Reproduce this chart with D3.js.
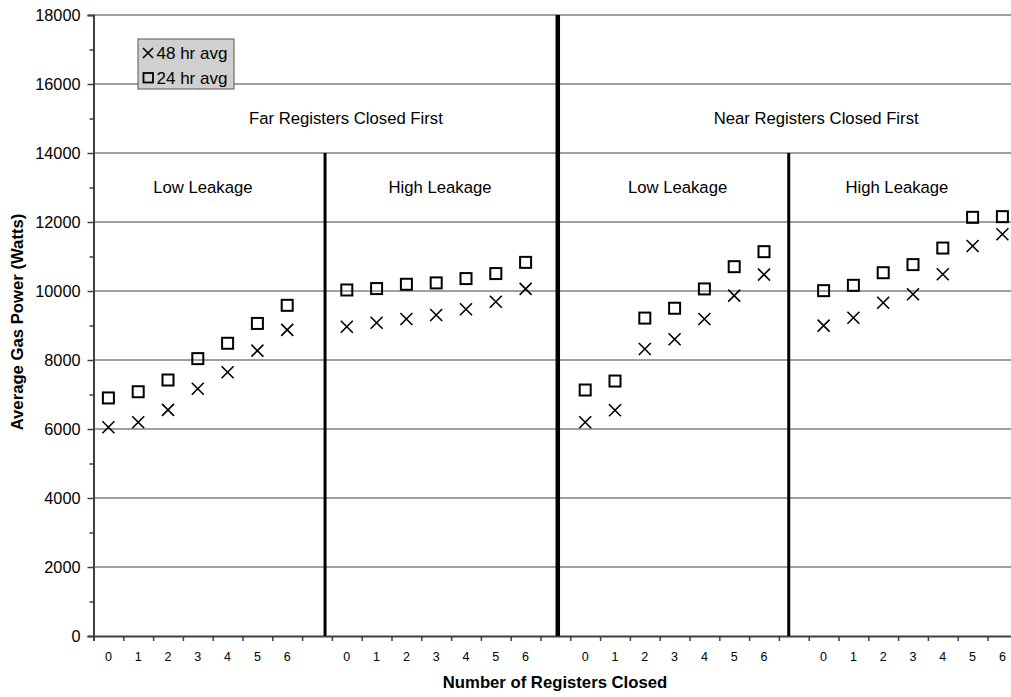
<!DOCTYPE html>
<html><head><meta charset="utf-8">
<script src="https://cdn.jsdelivr.net/npm/d3@7"></script>
<style>body{margin:0;background:#fff}svg{display:block;font-family:"Liberation Sans",Arial,sans-serif}</style>
</head><body><svg id="c" width="1011" height="697"></svg>
<script>
// Data
const tickLabels = ["0","1","2","3","4","5","6"];
const groups = ["Far / Low Leakage","Far / High Leakage","Near / Low Leakage","Near / High Leakage"];
const groupStart = [0, 8, 16, 24];          // slot index of first category in each group
const avg48 = [
  [6050, 6195, 6555, 7165, 7645, 8270, 8875],
  [8965, 9080, 9190, 9305, 9470, 9690, 10060],
  [6195, 6545, 8320, 8600, 9190, 9865, 10475],
  [8995, 9225, 9660, 9905, 10485, 11305, 11645]
];
const avg24 = [
  [6900, 7080, 7420, 8040, 8485, 9060, 9585],
  [10030, 10070, 10195, 10235, 10360, 10505, 10830],
  [7130, 7390, 9215, 9500, 10060, 10705, 11140],
  [10010, 10165, 10530, 10765, 11245, 12135, 12155]
];
const dividers = [ {x: 7.27, top: 14000, heavy:false}, {x: 15.08, top: 18000, heavy:true}, {x: 22.83, top: 14000, heavy:false} ];
const sectionLabels = [ {text:"Far Registers Closed First", x:7.97, y:15000}, {text:"Near Registers Closed First", x:23.75, y:15000} ];
const subLabels = [ {text:"Low Leakage", x:3.17, y:13000}, {text:"High Leakage", x:11.13, y:13000}, {text:"Low Leakage", x:19.1, y:13000}, {text:"High Leakage", x:26.46, y:13000} ];
const seriesNames = ["48 hr avg","24 hr avg"];
const yMax = 18000, yMajor = 2000, yMinor = 1000;

const svg = d3.select("#c");
const L = 93.5, slotW = 29.8, nSlots = 31, T = 15, B = 636;
const x = d3.scaleLinear().domain([-0.5, nSlots - 0.5]).range([L, L + nSlots*slotW]);
const y = d3.scaleLinear().domain([0, yMax]).range([B, T]);

// gridlines
svg.append("g").selectAll("line").data(d3.range(yMajor, yMax + 1, yMajor)).join("line")
  .attr("x1", L).attr("x2", 1011).attr("y1", d=>y(d)).attr("y2", d=>y(d))
  .attr("stroke", "#808080").attr("stroke-width", 1.5);

// y axis
const yAx = svg.append("g").attr("transform", `translate(${L},0)`)
  .call(d3.axisLeft(y).tickValues(d3.range(0, yMax+1, yMajor)).tickSize(6).tickPadding(7).tickFormat(d3.format("d")));
yAx.select(".domain").attr("stroke", "#404040").attr("stroke-width", 2);
yAx.selectAll(".tick line").attr("stroke", "#404040").attr("stroke-width", 1.5);
yAx.selectAll("text").attr("font-size", 16.3).attr("fill", "#000").attr("font-family", "Liberation Sans, Arial, sans-serif");
svg.append("g").attr("transform", `translate(${L},0)`)
  .call(d3.axisLeft(y).tickValues(d3.range(yMinor, yMax, yMajor)).tickSize(4).tickFormat(""))
  .call(g=>{g.select(".domain").remove(); g.selectAll(".tick line").attr("stroke","#404040").attr("stroke-width",1.5);});

// x axis (ticks on category boundaries)
const xAx = svg.append("g").attr("transform", `translate(0,${B})`)
  .call(d3.axisBottom(x).tickValues(d3.range(-0.5, nSlots, 1)).tickSize(5).tickFormat(""));
xAx.select(".domain").attr("stroke", "#404040").attr("stroke-width", 2);
xAx.selectAll(".tick line").attr("stroke", "#404040").attr("stroke-width", 1.5);
const catPos = [];
groupStart.forEach(s => tickLabels.forEach((t,i)=>catPos.push({t, p:s+i})));
svg.append("g").selectAll("text").data(catPos).join("text")
  .attr("x", d=>x(d.p)).attr("y", B+25).attr("text-anchor","middle").attr("font-size",12.5).text(d=>d.t);

// dividers
svg.append("g").selectAll("line").data(dividers).join("line")
  .attr("x1", d=>x(d.x)).attr("x2", d=>x(d.x)).attr("y1", d=>y(d.top)).attr("y2", B)
  .attr("stroke", "#000").attr("stroke-width", d=>d.heavy?4.5:3);

// section labels
svg.append("g").selectAll("text").data(sectionLabels.concat(subLabels)).join("text")
  .attr("x", d=>x(d.x)).attr("y", d=>y(d.y)).attr("dy","0.35em").attr("text-anchor","middle")
  .attr("font-size", 16.7).attr("fill","#000").text(d=>d.text);

// markers
const pts48 = [], pts24 = [];
groups.forEach((g,gi)=>{
  avg48[gi].forEach((v,i)=>pts48.push({p:groupStart[gi]+i, v}));
  avg24[gi].forEach((v,i)=>pts24.push({p:groupStart[gi]+i, v}));
});
const sq = 11, xs = 6;
svg.append("g").selectAll("rect").data(pts24).join("rect")
  .attr("x", d=>x(d.p)-sq/2).attr("y", d=>y(d.v)-sq/2).attr("width", sq).attr("height", sq)
  .attr("fill","none").attr("stroke","#000").attr("stroke-width",2);
svg.append("g").selectAll("path").data(pts48).join("path")
  .attr("d", d=>{const cx=x(d.p), cy=y(d.v); return `M${cx-xs},${cy-xs}L${cx+xs},${cy+xs}M${cx-xs},${cy+xs}L${cx+xs},${cy-xs}`;})
  .attr("stroke","#000").attr("stroke-width",1.6).attr("fill","none");

// legend
const lg = svg.append("g");
lg.append("rect").attr("x",138).attr("y",39).attr("width",96).attr("height",50)
  .attr("fill","#d0d0d0").attr("stroke","#555").attr("stroke-width",1);
lg.append("path").attr("d","M143,48L153,58M143,58L153,48").attr("stroke","#000").attr("stroke-width",1.6);
lg.append("rect").attr("x",143.5).attr("y",73).attr("width",9.5).attr("height",9.5).attr("fill","none").attr("stroke","#000").attr("stroke-width",1.8);
lg.selectAll("text").data(seriesNames).join("text")
  .attr("x",156.5).attr("y",(d,i)=>53+i*25).attr("dy","0.35em").attr("font-size",17).text(d=>d);

// axis titles
svg.append("text").attr("x", 555).attr("y", 688).attr("text-anchor","middle")
  .attr("font-size",16.7).attr("font-weight","bold").text("Number of Registers Closed");
svg.append("text").attr("transform","translate(23,322) rotate(-90)").attr("text-anchor","middle")
  .attr("font-size",16.7).attr("font-weight","bold").text("Average Gas Power (Watts)");
</script></body></html>
